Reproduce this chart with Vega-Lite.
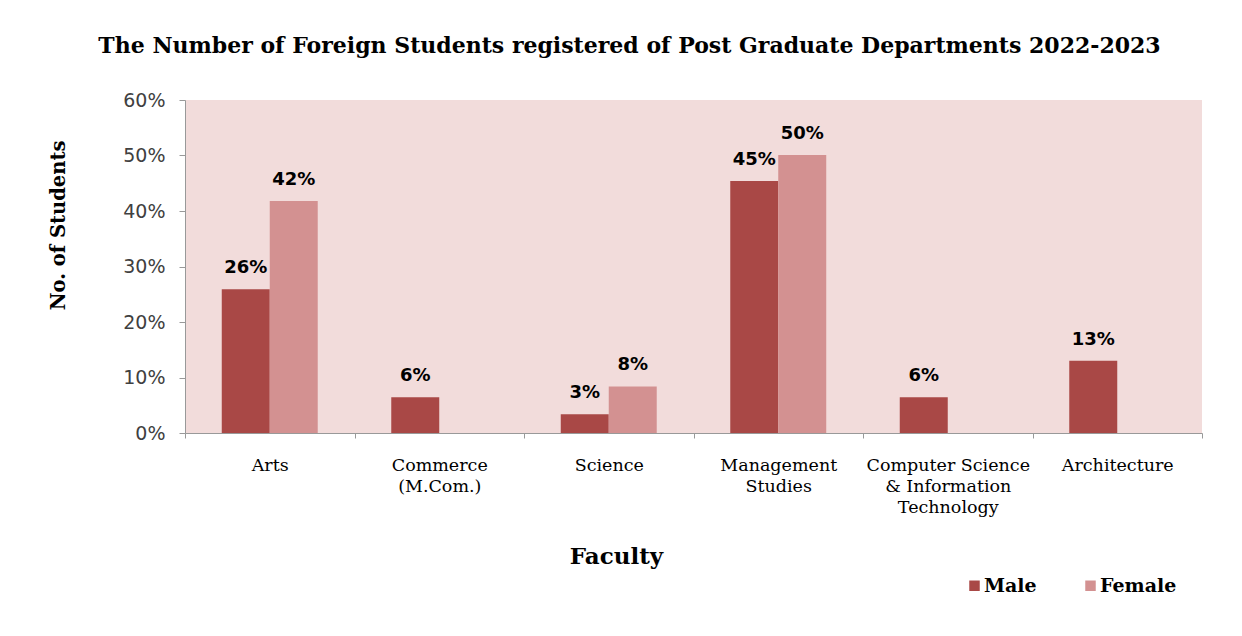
{
  "$schema": "https://vega.github.io/schema/vega-lite/v6.json",
  "width": 1017,
  "height": 333,
  "autosize": {"type": "none"},
  "padding": {"left": 185, "top": 100, "right": 40, "bottom": 203},
  "background": "white",
  "title": {
    "text": "The Number of Foreign Students registered of Post Graduate Departments 2022-2023",
    "font": "DejaVu Serif",
    "fontSize": 22,
    "fontWeight": "bold",
    "color": "black",
    "anchor": "middle",
    "frame": "group",
    "dx": -64,
    "offset": 33
  },
  "data": {
    "values": [
      {"faculty": "Arts", "gender": "Male", "value": 0.259},
      {"faculty": "Arts", "gender": "Female", "value": 0.418},
      {"faculty": "Commerce|(M.Com.)", "gender": "Male", "value": 0.0645},
      {"faculty": "Science", "gender": "Male", "value": 0.034},
      {"faculty": "Science", "gender": "Female", "value": 0.084},
      {"faculty": "Management|Studies", "gender": "Male", "value": 0.454},
      {"faculty": "Management|Studies", "gender": "Female", "value": 0.501},
      {"faculty": "Computer Science|& Information|Technology", "gender": "Male", "value": 0.0645},
      {"faculty": "Architecture", "gender": "Male", "value": 0.13}
    ]
  },
  "encoding": {
    "x": {
      "field": "faculty",
      "type": "nominal",
      "sort": ["Arts", "Commerce|(M.Com.)", "Science", "Management|Studies", "Computer Science|& Information|Technology", "Architecture"],
      "scale": {"paddingInner": 0, "paddingOuter": 0},
      "axis": {
        "title": "Faculty",
        "titleFont": "DejaVu Serif",
        "titleFontSize": 23,
        "titleFontWeight": "bold",
        "titleColor": "black",
        "titleX": 431,
        "titleY": 123,
        "titleBaseline": "middle",
        "labelExpr": "split(datum.label, '|')",
        "labelAngle": 0,
        "labelFont": "DejaVu Serif",
        "labelFontSize": 17.5,
        "labelColor": "black",
        "labelLineHeight": 21,
        "labelPadding": 18,
        "labelBaseline": "top",
        "tickBand": "extent",
        "tickSize": 5,
        "tickColor": "#999999",
        "domainColor": "#999999",
        "grid": false
      }
    },
    "xOffset": {"field": "gender", "type": "nominal", "scale": {"domain": ["Male", "Female"], "paddingInner": 0, "paddingOuter": 0.766}},
    "y": {
      "field": "value",
      "type": "quantitative",
      "scale": {"domain": [0, 0.6]},
      "axis": {
        "title": "No. of Students",
        "titleFont": "DejaVu Serif",
        "titleFontSize": 19.5,
        "titleFontWeight": "bold",
        "titleColor": "black",
        "titleX": -127,
        "titleY": 125,
        "titleAngle": -90,
        "titleAlign": "center",
        "titleBaseline": "middle",
        "format": ".0%",
        "values": [0, 0.1, 0.2, 0.3, 0.4, 0.5, 0.6],
        "labelFont": "DejaVu Sans",
        "labelFontSize": 19,
        "labelColor": "#404040",
        "labelPadding": 14,
        "tickSize": 6,
        "tickColor": "#999999",
        "domainColor": "#999999",
        "grid": false
      }
    }
  },
  "layer": [
    {
      "mark": {"type": "bar"},
      "encoding": {
        "color": {
          "field": "gender",
          "type": "nominal",
          "scale": {"domain": ["Male", "Female"], "range": ["#A94846", "#D39191"]},
          "legend": {
            "title": null,
            "orient": "none",
            "direction": "horizontal",
            "legendX": 780,
            "legendY": 476,
            "symbolType": "square",
            "symbolSize": 110,
            "symbolStrokeWidth": 0,
            "labelFont": "DejaVu Serif",
            "labelFontSize": 19,
            "labelFontWeight": "bold",
            "labelColor": "black",
            "labelOffset": 0,
            "columnPadding": 44
          }
        }
      }
    },
    {
      "mark": {"type": "text", "baseline": "bottom", "dy": -12, "font": "DejaVu Sans", "fontSize": 18, "fontWeight": "bold", "color": "black"},
      "encoding": {
        "text": {"field": "value", "type": "quantitative", "format": ".0%"}
      }
    }
  ],
  "config": {
    "view": {"fill": "#F2DCDB", "stroke": null}
  }
}
